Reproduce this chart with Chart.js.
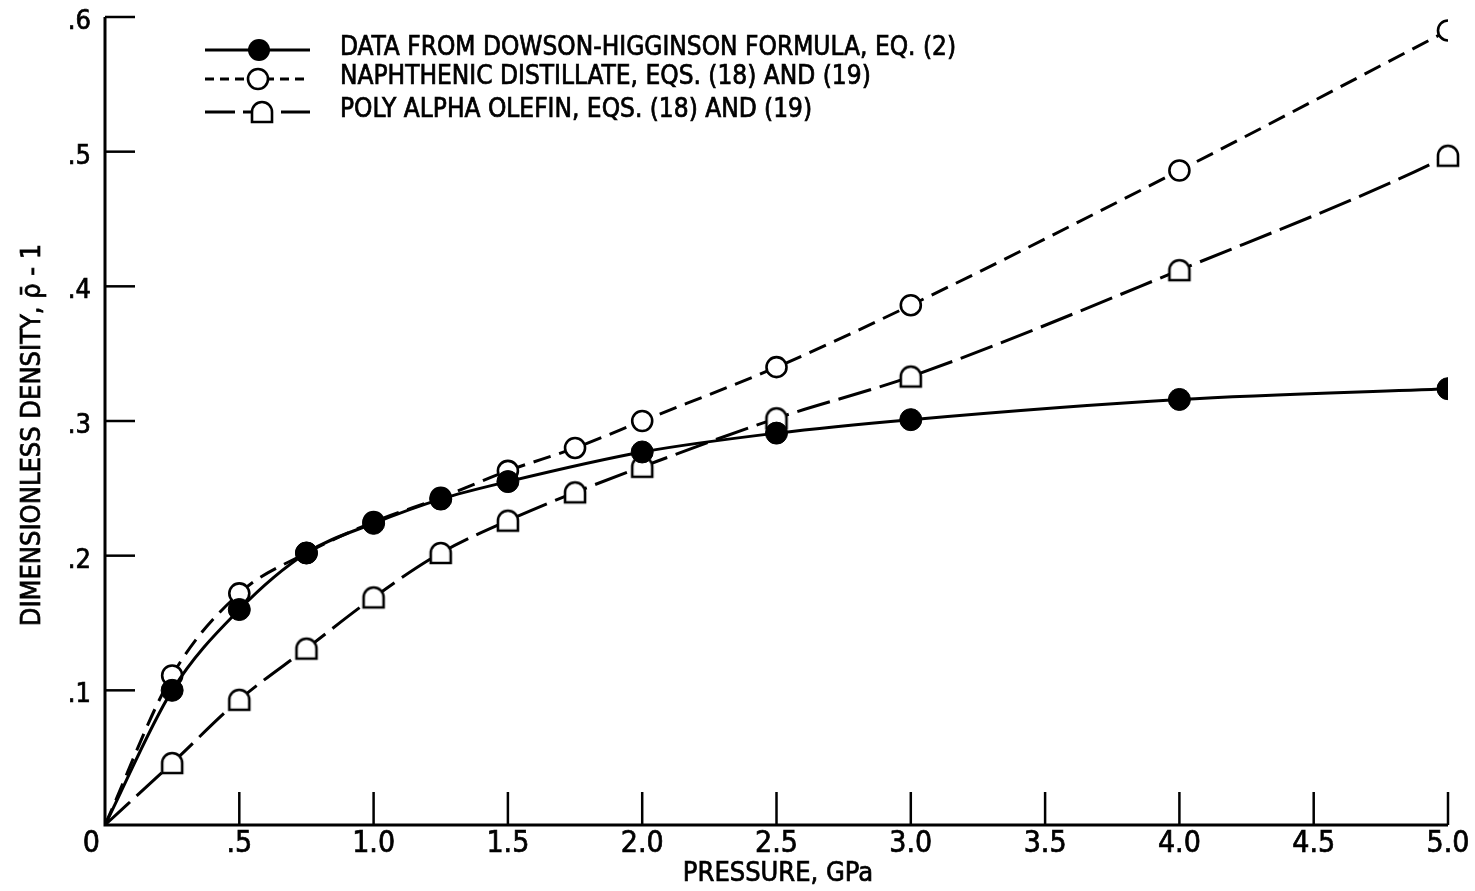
<!DOCTYPE html>
<html>
<head>
<meta charset="utf-8">
<script src="https://cdn.jsdelivr.net/npm/chart.js@4"></script>
<style>
html,body{margin:0;padding:0;background:#fff;}
#wrap{position:relative;width:1475px;height:891px;}
</style>
</head>
<body>
<div id="wrap"><canvas id="densityChart"></canvas></div>
<script>
// data (pressure in GPa, dimensionless density rho-1)
const pDH=[0,.25,.5,.75,1,1.25,1.5,2,2.5,3,4,5];
const rhoDH=[0,.100,.160,.202,.224,.242,.255,.277,.291,.301,.316,.324];
const pNap=[0,.25,.5,.75,1,1.25,1.5,1.75,2,2.5,3,4,5];
const rhoNap=[0,.111,.172,.202,.225,.243,.263,.280,.300,.340,.386,.486,.590];
const pPAO=[0,.25,.5,.75,1,1.25,1.5,1.75,2,2.5,3,4,5,5.08];
const rhoPAO=[0,.046,.093,.131,.169,.202,.226,.247,.266,.302,.333,.412,.497,.506];

const xTicks=[0,.5,1,1.5,2,2.5,3,3.5,4,4.5,5];
const xTickLbls=['0','.5','1.0','1.5','2.0','2.5','3.0','3.5','4.0','4.5','5.0'];
const yTicks=[.1,.2,.3,.4,.5,.6];
const yTickLbls=['.1','.2','.3','.4','.5','.6'];
const legendLbls=['DATA FROM DOWSON-HIGGINSON FORMULA, EQ. (2)','NAPHTHENIC DISTILLATE, EQS. (18) AND (19)','POLY ALPHA OLEFIN, EQS. (18) AND (19)'];

const FONT='"Liberation Sans Narrow","DejaVu Sans Condensed",sans-serif';
const pts=(xs,ys)=>xs.map((x,i)=>({x:x,y:ys[i]}));

// arch marker (round top, square bottom)
function archMarker(){
  const c=document.createElement('canvas');c.width=26;c.height=26;
  const g=c.getContext('2d');
  g.beginPath();
  g.moveTo(3,23);g.lineTo(3,13);g.arc(13,13,10,Math.PI,0);g.lineTo(23,23);g.closePath();
  g.fillStyle='#fff';g.fill();g.lineWidth=2.6;g.strokeStyle='#000';g.stroke();
  return c;
}
const arch=archMarker();

// heavier lettering like the original
function txt(ctx,s,x,y){ctx.fillText(s,x,y);ctx.strokeText(s,x,y);}

const axesPlugin={id:'axesPlugin',
  afterDraw(chart){
    const ctx=chart.ctx,xs=chart.scales.x,ys=chart.scales.y;
    const x0=xs.getPixelForValue(0),y0=ys.getPixelForValue(0);
    ctx.save();
    ctx.strokeStyle='#000';ctx.fillStyle='#000';ctx.lineWidth=3;ctx.setLineDash([]);
    // axes
    ctx.beginPath();
    ctx.moveTo(x0,ys.getPixelForValue(.6));ctx.lineTo(x0,y0);ctx.lineTo(xs.getPixelForValue(5),y0);
    ctx.stroke();
    // inward ticks
    ctx.lineWidth=2.5;
    xTicks.forEach(v=>{if(!v)return;const px=xs.getPixelForValue(v);ctx.beginPath();ctx.moveTo(px,y0);ctx.lineTo(px,y0-33);ctx.stroke();});
    yTicks.forEach(v=>{const py=ys.getPixelForValue(v);ctx.beginPath();ctx.moveTo(x0,py);ctx.lineTo(x0+30,py);ctx.stroke();});
    // tick labels
    ctx.lineWidth=0.7;
    ctx.font='30px '+FONT;ctx.textBaseline='middle';
    xTicks.forEach((v,i)=>{
      const px=xs.getPixelForValue(v);
      ctx.textAlign=i?'center':'right';
      txt(ctx,xTickLbls[i],i?px:px-5,y0+19);
    });
    ctx.font='27px '+FONT;ctx.textAlign='right';
    yTicks.forEach((v,i)=>txt(ctx,yTickLbls[i],x0-14,ys.getPixelForValue(v)+5));
    // axis titles
    ctx.font='27px '+FONT;ctx.textAlign='center';
    txt(ctx,'PRESSURE, GPa',778,874);
    ctx.translate(33,435);ctx.rotate(-Math.PI/2);
    txt(ctx,'DIMENSIONLESS DENSITY, \u03C1\u0304 - 1',0,0);
    ctx.restore();

    // legend
    ctx.save();
    const rows=[50,79,112],dashes=[[],[9,6],[30,8]];
    ctx.strokeStyle='#000';
    rows.forEach((ry,i)=>{
      ctx.lineWidth=3;ctx.setLineDash(dashes[i]);
      ctx.beginPath();ctx.moveTo(205,ry);ctx.lineTo(310,ry);ctx.stroke();
      ctx.setLineDash([]);
      if(i===0){ctx.beginPath();ctx.arc(259,ry,11,0,Math.PI*2);ctx.fillStyle='#000';ctx.fill();}
      else if(i===1){ctx.beginPath();ctx.arc(258,ry,10,0,Math.PI*2);ctx.fillStyle='#fff';ctx.fill();ctx.lineWidth=2.6;ctx.stroke();}
      else{ctx.drawImage(arch,262-13,ry-13);}
      ctx.fillStyle='#000';ctx.lineWidth=0.7;ctx.font='26px '+FONT;ctx.textAlign='left';ctx.textBaseline='middle';
      txt(ctx,legendLbls[i],340,ry-2);
    });
    ctx.restore();
  }
};

new Chart(document.getElementById('densityChart'),{type:'line',
  data:{datasets:[
    {label:legendLbls[0],data:pts(pDH,rhoDH),borderColor:'#000',borderWidth:3,cubicInterpolationMode:'monotone',
      pointStyle:'circle',pointRadius:c=>c.dataIndex===0?0:11,pointBackgroundColor:'#000',pointBorderColor:'#000',pointBorderWidth:1},
    {label:legendLbls[1],data:pts(pNap,rhoNap),borderColor:'#000',borderWidth:3,borderDash:[18,9],cubicInterpolationMode:'monotone',
      pointStyle:'circle',pointRadius:c=>c.dataIndex===0?0:10,pointBackgroundColor:'#fff',pointBorderColor:'#000',pointBorderWidth:2.6},
    {label:legendLbls[2],data:pts(pPAO,rhoPAO),borderColor:'#000',borderWidth:3,borderDash:[34,9],cubicInterpolationMode:'monotone',clip:false,
      pointStyle:arch,pointRadius:c=>(c.dataIndex===0||c.dataIndex===pPAO.length-1)?0:10}
  ]},
  options:{responsive:true,maintainAspectRatio:false,animation:false,
    layout:{padding:{left:105,right:27,top:17,bottom:66}},
    plugins:{legend:{display:false},tooltip:{enabled:false}},
    scales:{
      x:{type:'linear',min:0,max:5,display:false},
      y:{type:'linear',min:0,max:.6,display:false}
    }
  },
  plugins:[axesPlugin]
});
</script>
</body>
</html>
